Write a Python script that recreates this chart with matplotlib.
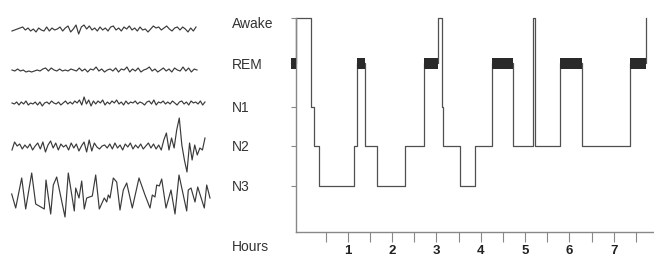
import numpy as np
import matplotlib
matplotlib.use('Agg')
import matplotlib.pyplot as plt
from matplotlib.transforms import ScaledTranslation

plt.rcParams['font.family'] = ['Liberation Sans', 'DejaVu Sans']

# ---- EEG 样例波形 (幅度, 像素单位, 向上为正) ----
eeg_awake = [-3, -2, -1, 0, 1, -2, 0, -3, -1, -4, 0, -2, -3, 1, -3, 0, -2, -1, 1, -3,
             0, 2, -4, -1, 3, -6, 1, 3, -1, 2, -2, 0, -3, 1, -2, 0, -3, 1, 2, -2,
             0, -3, 1, -1, 2, -2, 0, -3, 1, -2, -1, -4, -1, 2, 0, 1, -2, 0, 2, -1,
             -3, 0, 1, -2, 1, -1, -4, 0, -3, 1]
eeg_rem = [0, -1, 1, -1, 0, -2, -1, -2, -1, 0, -1, 1, 2, -1, 2, 0, -1, 1, -1, 0,
           -1, 1, 0, -1, 2, -1, 1, -2, 1, 0, 3, -1, 1, -2, 0, 1, -1, 2, -2, 1,
           0, 3, -2, 1, -1, 2, -2, 0, 1, 3, -1, 1, -2, 0, 2, -1, 1, -2, 2, 0,
           -1, 3, -1, 2, -2, 1, 0]
eeg_n1 = [0, -1, 1, -2, 1, -1, 2, -2, 0, -1, 1, -2, 1, -3, 0, 1, -1, 2, 0, -1,
          1, -2, 0, 2, -1, 1, -1, 2, 0, 3, -2, 6, -1, 3, -3, 2, -1, 2, 0, 3,
          -2, 1, -1, 2, 0, 3, -1, 1, -2, 2, -1, 1, 0, 2, -1, 1, 0, -2, 1, 2,
          -1, 3, -2, 1, 0, 2, -1, 1, -1, 2, 0, -2, 1, 2, -1, 1, -2, 2, 0, 1,
          -1, 2, -2, 1]
eeg_n2 = [-2, 6, 2, 4, -1, 3, 0, 4, -2, 2, 5, -1, 6, -4, 3, 7, 0, 5, -2, 4,
          1, 3, -2, 5, 0, 4, -3, 2, 6, -4, 8, -3, 5, 1, -1, 2, 3, 0, 4, -1,
          5, 0, 3, -2, 4, 1, 5, -1, 3, 0, 4, -1, 2, 5, 0, 4, -1,
          3, -2, 8, 15, -2, 10, 0, 18, 30, 3, -12, -24, 5, -12, 3, -7, 0, -2, 10]
n3_t = [11.7, 15.7, 21.7, 25.7, 31.7, 35.7, 44.3, 46.0, 50.7, 53.3, 56.7, 65.0,
        68.3, 74.3, 75.7, 79.0, 81.7, 84.3, 86.7, 92.3, 95.7, 99.3, 104.3, 106.7,
        108.3, 110.0, 113.3, 116.7, 120.0, 123.3, 126.7, 132.3, 139.0, 145.0,
        150.0, 152.3, 155.0, 156.7, 159.3, 161.7, 166.0, 171.0, 175.0, 179.0,
        186.7, 188.3, 191.0, 195.0, 197.7, 204.3, 206.7, 210.0]
eeg_n3 = [1, -13, 17, -14, 22, -9, -14, 15, -19, 10, 18, -22, 22, -16, 7, -3,
          14, -14, -3, -1, 20, -14, -3, -7, 0, -3, 17, 13, -15, 5, 12, -13,
          17, 0, -13, 0, -2, 10, 9, 16, -13, 5, -19, 20, -16, 5, 7, -7, 8,
          -13, 10, -3]

# ---- 睡眠分期图 (小时) ----
stage_times = [-0.29, -0.17, 0.17, 0.23, 0.35, 1.15, 1.21, 1.40, 1.65, 2.30, 2.71,
               3.03, 3.13, 3.16, 3.54, 3.86, 4.26, 4.73, 5.17, 5.23, 5.78, 6.29,
               7.37, 7.73]
stages = ['REM', 'Awake', 'N1', 'N2', 'N3', 'N2', 'REM', 'N2', 'N3', 'N2', 'REM',
          'Awake', 'N1', 'N2', 'N3', 'N2', 'REM', 'N2', 'Awake', 'N2', 'REM', 'N2',
          'REM', 'Awake']
stage_names = ['Awake', 'REM', 'N1', 'N2', 'N3']
hour_ticks = np.arange(0.5, 8.0, 0.5)
hour_labels = [str(int(h)) if h == int(h) else '' for h in hour_ticks]

stage_pos = {'N3': 1.15, 'N2': 2.15, 'N1': 3.13, 'REM': 4.22, 'Awake': 5.34}
W, H = 654, 261
fig = plt.figure(figsize=(W / 100, H / 100), dpi=100)

# 左侧波形
ax0 = fig.add_axes([0, 0, 220 / W, 1])
ax0.set_xlim(0, 220)
ax0.set_ylim(H, 0)
ax0.axis('off')
waves = [(eeg_awake, 28, 12, 196), (eeg_rem, 70, 12, 197),
         (eeg_n1, 103, 12, 205), (eeg_n2, 148, 12, 205)]
for vals, base, x0, x1 in waves:
    xs = np.linspace(x0, x1, len(vals))
    ax0.plot(xs, base - np.array(vals), color='#3a3a3a', lw=0.85)
ax0.plot(n3_t, 195 - np.array(eeg_n3), color='#3a3a3a', lw=0.85)

# 右侧分期图
ax = fig.add_axes([295.5 / W, 1 - 232 / H, 1 - 295.5 / W, (232 - 18.3) / H])
h_per_px = 1 / 44.33
ax.set_xlim((295.5 - 303.4) * h_per_px, (654 - 303.4) * h_per_px)
ax.set_ylim(0, stage_pos['Awake'])

ys = [stage_pos[s] for s in stages]
ax.step(stage_times, ys, where='post', color='#505050', lw=0.9, clip_on=False)
for i, s in enumerate(stages[:-1]):
    if s == 'REM':
        ax.broken_barh([(stage_times[i], stage_times[i + 1] - stage_times[i])],
                       (stage_pos['REM'] - 0.14, 0.28), facecolor='#2a2a2a',
                       edgecolor='none', clip_on=False, zorder=3)

for sp in ['top', 'right']:
    ax.spines[sp].set_visible(False)
for sp in ['left', 'bottom']:
    ax.spines[sp].set_color('#888888')
    ax.spines[sp].set_linewidth(1.0)

ax.set_yticks([stage_pos[s] for s in stage_names])
ax.set_yticklabels(stage_names, ha='left', fontsize=10, color='#333333')
ax.tick_params(axis='y', length=3.6, width=0.8, color='#888888', pad=42)
ax.set_xticks(hour_ticks)
ax.set_xticklabels(hour_labels, fontsize=9.5, fontweight='bold', color='#222222')
ax.tick_params(axis='x', length=7.5, width=0.8, color='#888888', pad=2)

# "Awake" 标签稍微下移
awake_lbl = ax.get_yticklabels()[0]
awake_lbl.set_transform(awake_lbl.get_transform()
                        + ScaledTranslation(0, -0.04, fig.dpi_scale_trans))

fig.text(232 / W, 1 - 246.7 / H, 'Hours', ha='left', va='center',
         fontsize=10, color='#333333')

fig.savefig('out.png', dpi=100)
